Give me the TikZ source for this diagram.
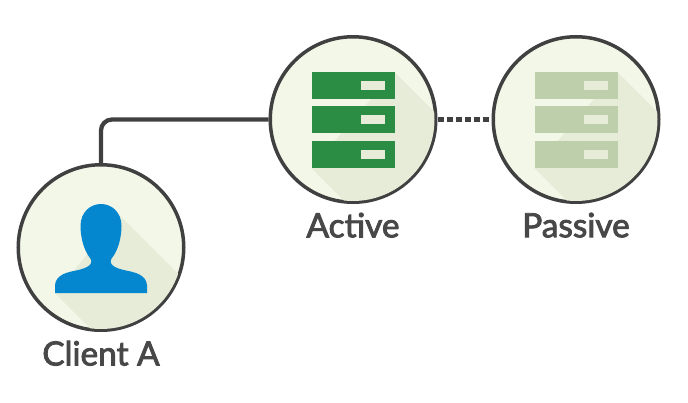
\documentclass[tikz,border=0pt]{standalone}
\usepackage{fontspec}
\setmainfont{Lato}
\newfontfamily\labelfont[FakeBold=2.6]{Lato}
\usetikzlibrary{positioning}
\definecolor{cdisc}{HTML}{F3F7E7}
\definecolor{cshade}{HTML}{E6ECD8}
\definecolor{cline}{HTML}{404040}
\definecolor{ctext}{HTML}{484848}
\definecolor{cgreen}{HTML}{2B8C44}
\definecolor{cpale}{HTML}{BDD0AB}
\definecolor{cblue}{HTML}{0587CF}
\tikzset{
  disc/.style={circle, draw=cline, fill=cdisc, line width=0.07cm, minimum size=3.31cm, inner sep=0pt},
  tag/.style={font=\labelfont\fontsize{19}{20}\selectfont, text=ctext, inner sep=0pt},
  link/.style={draw=cline, line width=0.085cm, rounded corners=0.22cm},
  dotlink/.style={draw=cline, line width=0.085cm, dash pattern=on 0.12cm off 0.06cm},
}
% three stacked bars with a long shade behind them, #1 = disc node, #2 = bar colour
\newcommand{\serverstack}[2]{
  \begin{scope}[shift={(#1.center)}]
    \clip (0,0) circle (1.63);
    \fill[cshade] (0.83,0.95) -- (3.83,-2.05) -- (2.17,-3.97) -- (-0.83,-0.97) -- cycle;
    \foreach \y in {0.95,0.27,-0.43} {
      \fill[#2] (-0.83,\y) rectangle (0.83,\y-0.53);
      \fill[cshade] (0.16,\y-0.18) rectangle (0.63,\y-0.35);
    }
  \end{scope}
}
\begin{document}
\begin{tikzpicture}
  \useasboundingbox (0,0) rectangle (13.76,8.04);
  \node[disc] (client) at (2.02,3.09) {};
  \node[disc] (active) at (7.06,5.65) {};
  \node[disc] (passive) at (11.52,5.65) {};
  \serverstack{active}{cgreen}
  \serverstack{passive}{cpale}
  % person icon with its shade
  \begin{scope}[shift={(client.center)}]
    \clip (0,0) circle (1.63);
    \fill[cshade] (0.38,0.64) -- (3.38,-2.36) -- (2.08,-3.91) -- (-0.92,-0.91) -- cycle;
    \fill[cblue] (-0.92,-0.91) -- (-0.92,-0.75) .. controls (-0.9,-0.55) and (-0.7,-0.5) .. (-0.5,-0.46)
      .. controls (-0.3,-0.42) and (-0.1,-0.34) .. (-0.24,-0.18)
      .. controls (-0.34,-0.05) and (-0.41,0.2) .. (-0.41,0.43)
      .. controls (-0.41,0.7) and (-0.22,0.87) .. (0,0.87)
      .. controls (0.22,0.87) and (0.41,0.7) .. (0.41,0.43)
      .. controls (0.41,0.2) and (0.34,-0.05) .. (0.24,-0.18)
      .. controls (0.1,-0.34) and (0.3,-0.42) .. (0.5,-0.46)
      .. controls (0.7,-0.5) and (0.9,-0.55) .. (0.92,-0.75) -- (0.92,-0.91) -- cycle;
  \end{scope}
  \node[tag, below=0.17cm of client] (clientlabel) {Client A};
  \node[tag, below=0.17cm of active] (activelabel) {Active};
  \node[tag, below=0.17cm of passive] (passivelabel) {Passive};
  \draw[link] (client.north) |- (active.west);
  \draw[dotlink] (active.east) -- (passive.west);
\end{tikzpicture}
\end{document}
